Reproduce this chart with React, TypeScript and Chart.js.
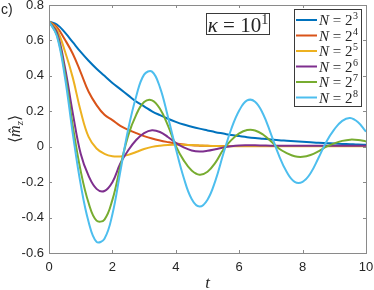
import React, { useEffect, useRef } from "react";
import { Chart, registerables } from "chart.js";

Chart.register(...registerables);

// ---- data ----
const tValues = [
  0, 0.25, 0.5, 0.75, 1, 1.25, 1.5, 1.75, 2, 2.25, 2.5, 2.75, 3, 3.25, 3.5, 3.75, 4,
  4.25, 4.5, 4.75, 5, 5.25, 5.5, 5.75, 6, 6.25, 6.5, 6.75, 7, 7.25, 7.5, 7.75, 8,
  8.25, 8.5, 8.75, 9, 9.25, 9.5, 9.75, 10,
];

const exponents = [3, 4, 5, 6, 7, 8];

const mzN8 = [
  0.707, 0.69, 0.645, 0.59, 0.535, 0.485, 0.44, 0.4, 0.36, 0.325, 0.29, 0.255, 0.228,
  0.2, 0.178, 0.158, 0.14, 0.125, 0.113, 0.102, 0.092, 0.082, 0.074, 0.066, 0.06,
  0.054, 0.049, 0.045, 0.041, 0.037, 0.034, 0.031, 0.028, 0.025, 0.022, 0.02, 0.018,
  0.016, 0.014, 0.012, 0.011,
];
const mzN16 = [
  0.707, 0.675, 0.605, 0.525, 0.42, 0.31, 0.235, 0.18, 0.15, 0.118, 0.095, 0.077, 0.06,
  0.046, 0.035, 0.026, 0.018, 0.012, 0.008, 0.006, 0.005, 0.004, 0.004, 0.004, 0.004,
  0.004, 0.004, 0.004, 0.004, 0.004, 0.004, 0.004, 0.004, 0.004, 0.004, 0.004, 0.004,
  0.004, 0.004, 0.004, 0.004,
];
const mzN32 = [
  0.707, 0.66, 0.54, 0.39, 0.2, 0.055, -0.01, -0.04, -0.054, -0.055, -0.046, -0.03,
  -0.013, -0.001, 0.006, 0.01, 0.011, 0.011, 0.009, 0.007, 0.005, 0.004, 0.003, 0.003,
  0.003, 0.003, 0.003, 0.003, 0.003, 0.003, 0.003, 0.003, 0.003, 0.003, 0.003, 0.003,
  0.003, 0.003, 0.003, 0.003, 0.003,
];
const mzN64 = [
  0.707, 0.645, 0.45, 0.19, -0.04, -0.165, -0.238, -0.25, -0.2, -0.095, -0.02, 0.038,
  0.077, 0.093, 0.083, 0.055, 0.022, -0.004, -0.021, -0.027, -0.023, -0.014, -0.004,
  0.003, 0.007, 0.008, 0.008, 0.007, 0.006, 0.006, 0.005, 0.005, 0.005, 0.005, 0.005,
  0.005, 0.005, 0.005, 0.005, 0.005, 0.005,
];
const mzN128 = [
  0.707, 0.631, 0.419, 0.118, -0.137, -0.318, -0.417, -0.411, -0.3, -0.112, 0.064, 0.18,
  0.252, 0.262, 0.214, 0.121, 0.005, -0.077, -0.134, -0.158, -0.141, -0.09, -0.016,
  0.037, 0.075, 0.094, 0.092, 0.069, 0.031, -0.01, -0.036, -0.054, -0.057, -0.047,
  -0.026, 0.0, 0.019, 0.033, 0.04, 0.038, 0.03,
];
const mzN256 = [
  0.707, 0.624, 0.395, 0.074, -0.213, -0.425, -0.537, -0.519, -0.381, -0.14, 0.1, 0.284,
  0.407, 0.424, 0.335, 0.17, -0.01, -0.175, -0.295, -0.338, -0.299, -0.191, -0.04, 0.1,
  0.204, 0.261, 0.254, 0.186, 0.073, -0.048, -0.143, -0.198, -0.198, -0.15, -0.064,
  0.028, 0.098, 0.146, 0.162, 0.138, 0.085,
];

const seriesValues = [mzN8, mzN16, mzN32, mzN64, mzN128, mzN256];
const seriesColors = ["#0072BD", "#D95319", "#EDB120", "#7E2F8E", "#77AC30", "#4DBEEE"];

const xTicks = [0, 2, 4, 6, 8, 10];
const yTicks = [-0.6, -0.4, -0.2, 0, 0.2, 0.4, 0.6, 0.8];

const panelLabel = "c)";
const kappaBase = "10";
const kappaExp = "1";
const xTitle = "t";

const SERIF = '"Liberation Serif", "Times New Roman", serif';
const SANS = '"Liberation Sans", Arial, Helvetica, sans-serif';
const AXIS_COLOR = "#8a8a8a";
const TEXT_COLOR = "#262626";

const decorPlugin = {
  id: "decor",
  afterDraw(chart: any) {
    const ctx = chart.ctx as CanvasRenderingContext2D;
    const { left, right, top, bottom } = chart.chartArea;
    const xs = chart.scales.x;
    const ys = chart.scales.y;
    ctx.save();
    // frame
    ctx.strokeStyle = AXIS_COLOR;
    ctx.lineWidth = 1;
    ctx.strokeRect(Math.round(left) + 0.5, Math.round(top) + 0.5, Math.round(right - left), Math.round(bottom - top));
    // inward ticks
    const tl = 3;
    ctx.beginPath();
    xTicks.forEach((v) => {
      const px = Math.round(xs.getPixelForValue(v)) + 0.5;
      ctx.moveTo(px, bottom);
      ctx.lineTo(px, bottom - tl);
      ctx.moveTo(px, top);
      ctx.lineTo(px, top + tl);
    });
    yTicks.forEach((v) => {
      const py = Math.round(ys.getPixelForValue(v)) + 0.5;
      ctx.moveTo(left, py);
      ctx.lineTo(left + tl, py);
      ctx.moveTo(right, py);
      ctx.lineTo(right - tl, py);
    });
    ctx.stroke();

    // panel label
    ctx.fillStyle = TEXT_COLOR;
    ctx.font = `14px ${SANS}`;
    ctx.textAlign = "left";
    ctx.textBaseline = "alphabetic";
    ctx.fillText(panelLabel, 1, 14);

    // x title
    ctx.font = `italic 17px ${SERIF}`;
    ctx.textAlign = "center";
    ctx.fillText(xTitle, (left + right) / 2, 288);
    ctx.textAlign = "left";

    // y title  <m̂_z>
    ctx.save();
    ctx.translate(15, (top + bottom) / 2);
    ctx.rotate(-Math.PI / 2);
    const partsY: [string, string, number][] = [
      ["\u27E8", `16px ${SERIF}`, 0],
      ["m\u0302", `italic 16px ${SERIF}`, 0],
      ["z", `italic 11px ${SERIF}`, 3],
      ["\u27E9", `16px ${SERIF}`, 0],
    ];
    let totalW = 0;
    partsY.forEach(([s, f]) => {
      ctx.font = f;
      totalW += ctx.measureText(s).width;
    });
    let cx = -totalW / 2;
    ctx.textAlign = "left";
    partsY.forEach(([s, f, dy]) => {
      ctx.font = f;
      ctx.fillText(s, cx, 5 + dy);
      cx += ctx.measureText(s).width;
    });
    ctx.restore();
    ctx.textAlign = "left";
    ctx.textBaseline = "alphabetic";

    // kappa box
    const bx = 206.5, by = 13.5, bw = 63, bh = 21;
    ctx.fillStyle = "#ffffff";
    ctx.fillRect(bx, by, bw, bh);
    ctx.strokeStyle = "#3a3a3a";
    ctx.lineWidth = 1;
    ctx.strokeRect(bx, by, bw, bh);
    const kParts: [string, string, number][] = [
      ["\u03BA", `italic 21px ${SERIF}`, 0],
      [" = ", `21px ${SERIF}`, 0],
      [kappaBase, `21px ${SERIF}`, 0],
      [kappaExp, `14px ${SERIF}`, -8],
    ];
    let kw = 0;
    kParts.forEach(([s, f]) => {
      ctx.font = f;
      kw += ctx.measureText(s).width;
    });
    let kx = bx + (bw - kw) / 2;
    ctx.fillStyle = TEXT_COLOR;
    kParts.forEach(([s, f, dy]) => {
      ctx.font = f;
      ctx.fillText(s, kx, 31.5 + dy);
      kx += ctx.measureText(s).width;
    });

    // legend
    const lx = 294.5, ly = 9.5, lw = 67, lh = 97;
    ctx.fillStyle = "#ffffff";
    ctx.fillRect(lx, ly, lw, lh);
    ctx.strokeStyle = "#3a3a3a";
    ctx.lineWidth = 1;
    ctx.strokeRect(lx, ly, lw, lh);
    chart.data.datasets.forEach((ds: any, i: number) => {
      const ry = 20 + i * 15.5;
      ctx.strokeStyle = ds.borderColor;
      ctx.lineWidth = 2;
      ctx.beginPath();
      ctx.moveTo(296, ry);
      ctx.lineTo(317, ry);
      ctx.stroke();
      ctx.fillStyle = TEXT_COLOR;
      let tx = 319;
      const base = ry + 5;
      ctx.font = `italic 15px ${SERIF}`;
      ctx.fillText("N", tx, base);
      tx += ctx.measureText("N").width;
      ctx.font = `15px ${SERIF}`;
      ctx.fillText(" = 2", tx, base);
      tx += ctx.measureText(" = 2").width;
      ctx.font = `10px ${SERIF}`;
      ctx.fillText(String(exponents[i]), tx + 0.5, base - 6);
    });
    ctx.restore();
  },
};

export default function App() {
  const canvasRef = useRef<HTMLCanvasElement | null>(null);

  useEffect(() => {
    const canvas = canvasRef.current;
    if (!canvas) return;
    const datasets = seriesValues.map((vals, i) => ({
      label: `N = 2^${exponents[i]}`,
      data: tValues.map((t, j) => ({ x: t, y: vals[j] })),
      borderColor: seriesColors[i],
      backgroundColor: seriesColors[i],
      borderWidth: 2,
      pointRadius: 0,
      tension: 0.4,
      fill: false,
      order: seriesValues.length - i,
    }));
    const chart = new Chart(canvas, {
      type: "line",
      data: { datasets },
      options: {
        animation: false,
        responsive: false,
        devicePixelRatio: 1,
        layout: { padding: { left: 0, top: 5, right: 8, bottom: 0 } },
        plugins: { legend: { display: false }, tooltip: { enabled: false } },
        scales: {
          x: {
            type: "linear",
            min: 0,
            max: 10,
            grid: { display: false, drawTicks: false },
            border: { display: false },
            afterBuildTicks: (scale: any) => {
              scale.ticks = xTicks.map((v) => ({ value: v }));
            },
            afterFit: (scale: any) => {
              scale.height = 37;
              scale.paddingLeft = 0;
              scale.paddingRight = 0;
            },
            ticks: {
              padding: 7,
              color: TEXT_COLOR,
              font: { family: SANS, size: 13 },
              maxRotation: 0,
              callback: (v: any) => String(Math.round(Number(v) * 10) / 10),
            },
          },
          y: {
            type: "linear",
            min: -0.6,
            max: 0.8,
            grid: { display: false, drawTicks: false },
            border: { display: false },
            afterBuildTicks: (scale: any) => {
              scale.ticks = yTicks.map((v) => ({ value: v }));
            },
            afterFit: (scale: any) => {
              scale.width = 49;
              scale.paddingTop = 0;
              scale.paddingBottom = 0;
            },
            ticks: {
              padding: 5,
              color: TEXT_COLOR,
              font: { family: SANS, size: 13 },
              callback: (v: any) => String(Math.round(Number(v) * 10) / 10),
            },
          },
        },
      },
      plugins: [decorPlugin],
    } as any);
    return () => chart.destroy();
  }, []);

  return (
    <div style={{ position: "absolute", left: 0, top: 0, width: 374, height: 290, background: "#ffffff" }}>
      <canvas ref={canvasRef} width={374} height={290} style={{ display: "block" }} />
    </div>
  );
}
